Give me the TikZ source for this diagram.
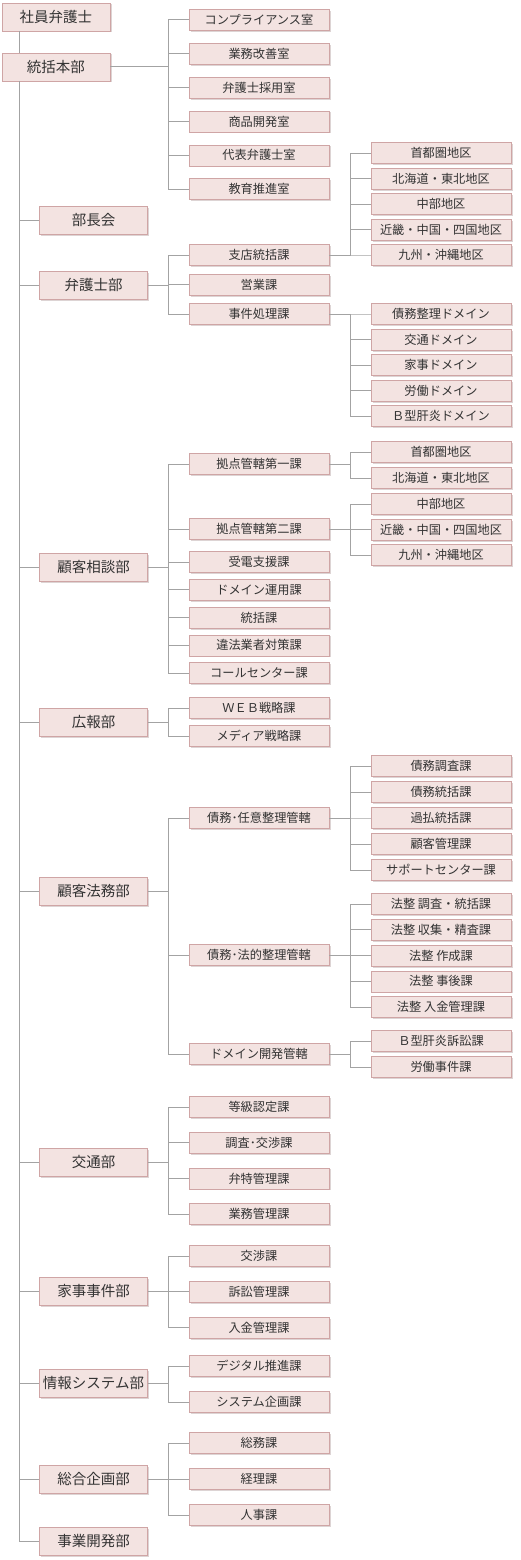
\documentclass[tikz,border=0pt]{standalone}
\usepackage{fontspec}
\setmainfont{Noto Sans CJK JP}
\usetikzlibrary{shadows}
\definecolor{boxfill}{HTML}{F3E3E1}
\definecolor{boxline}{HTML}{CFA5A5}
\definecolor{boxshadow}{HTML}{BBAAAA}
\definecolor{linkc}{HTML}{A3A3A3}
\definecolor{txt}{HTML}{333333}

\begin{document}
\begin{tikzpicture}[x=1pt, y=1pt, node distance=25.5pt,
  box/.style = {draw=boxline, fill=boxfill, text=txt, inner sep=1pt,
    drop shadow={shadow xshift=1.5pt, shadow yshift=-1.5pt, fill=boxshadow}},
  bu/.style = {box, minimum width=108pt, minimum height=28pt, font=\fontsize{14.5}{16}\selectfont},
  ka/.style = {box, minimum width=140pt, minimum height=21pt, font=\fontsize{12.2}{14}\selectfont},
  link/.style = {draw=linkc, line width=1pt},
  branch/.style = {to path={(\tikztotarget.west) -- ++(-20pt,0) |- (\tikztostart.east)}}]
\useasboundingbox (0,0) rectangle (520,-1560);

% departments
\node[bu] (syain) at (56,-17) {社員弁護士};
\node[bu] (hq) at (56,-67) {統括本部};
\node[bu] (bucho) at (93.5,-220) {部長会};
\node[bu] (bengo) at (93.5,-285) {弁護士部};
\node[bu] (sodan) at (93.5,-567) {顧客相談部};
\node[bu] (koho) at (93.5,-722) {広報部};
\node[bu] (homu) at (93.5,-891) {顧客法務部};
\node[bu] (kotsu) at (93.5,-1162) {交通部};
\node[bu] (kaji) at (93.5,-1291) {家事事件部};
\node[bu] (joho) at (93.5,-1383) {情報システム部};
\node[bu] (kikaku) at (93.5,-1479) {総合企画部};
\node[bu] (jigyo) at (93.5,-1541) {事業開発部};

% sections
\node[ka] (comp) at (259,-20) {コンプライアンス室};
\node[ka] (kaizen) [node distance=33.8pt, below of=comp] {業務改善室};
\node[ka] (saiyo) [node distance=33.8pt, below of=kaizen] {弁護士採用室};
\node[ka] (shohin) [node distance=33.8pt, below of=saiyo] {商品開発室};
\node[ka] (daihyo) [node distance=33.8pt, below of=shohin] {代表弁護士室};
\node[ka] (kyoiku) [node distance=33.8pt, below of=daihyo] {教育推進室};

\node[ka] (shiten) at (259,-255) {支店統括課};
\node[ka] (eigyo) [node distance=29.5pt, below of=shiten] {営業課};
\node[ka] (jiken) [node distance=29.5pt, below of=eigyo] {事件処理課};

\node[ka] (kyoten1) at (259,-464) {拠点管轄第一課};
\node[ka] (kyoten2) at (259,-529) {拠点管轄第二課};
\node[ka] (juden) at (259,-562) {受電支援課};
\node[ka] (unyo) [node distance=27.75pt, below of=juden] {ドメイン運用課};
\node[ka] (tokatsu) [node distance=27.75pt, below of=unyo] {統括課};
\node[ka] (ihou) [node distance=27.75pt, below of=tokatsu] {違法業者対策課};
\node[ka] (call) [node distance=27.75pt, below of=ihou] {コールセンター課};

\node[ka] (web) at (259,-708) {ＷＥＢ戦略課};
\node[ka] (media) [node distance=28pt, below of=web] {メディア戦略課};

\node[ka] (nini) at (259,-818) {債務･任意整理管轄};
\node[ka] (houteki) at (259,-955) {債務･法的整理管轄};
\node[ka] (kaihatsu) at (259,-1054) {ドメイン開発管轄};

\node[ka] (tokyu) at (259,-1107) {等級認定課};
\node[ka] (chosa) [node distance=35.67pt, below of=tokyu] {調査･交渉課};
\node[ka] (bentoku) [node distance=35.67pt, below of=chosa] {弁特管理課};
\node[ka] (gyomu) [node distance=35.67pt, below of=bentoku] {業務管理課};

\node[ka] (kosho) at (259,-1256) {交渉課};
\node[ka] (soshokanri) [node distance=35.8pt, below of=kosho] {訴訟管理課};
\node[ka] (nyukin) [node distance=35.8pt, below of=soshokanri] {入金管理課};

\node[ka] (digital) at (259,-1366) {デジタル推進課};
\node[ka] (sysplan) [node distance=36pt, below of=digital] {システム企画課};

\node[ka] (somu) at (259,-1443) {総務課};
\node[ka] (keiri) [node distance=36pt, below of=somu] {経理課};
\node[ka] (jinji) [node distance=36pt, below of=keiri] {人事課};

% units
\node[ka] (shuto1) at (441,-153) {首都圏地区};
\node[ka] (hokkaido1) [below of=shuto1] {北海道・東北地区};
\node[ka] (chubu1) [below of=hokkaido1] {中部地区};
\node[ka] (kinki1) [below of=chubu1] {近畿・中国・四国地区};
\node[ka] (kyushu1) [below of=kinki1] {九州・沖縄地区};

\node[ka] (saimudm) at (441,-314) {債務整理ドメイン};
\node[ka] (kotsudm) [below of=saimudm] {交通ドメイン};
\node[ka] (kajidm) [below of=kotsudm] {家事ドメイン};
\node[ka] (rododm) [below of=kajidm] {労働ドメイン};
\node[ka] (bgatadm) [below of=rododm] {Ｂ型肝炎ドメイン};

\node[ka] (shuto2) at (441,-452) {首都圏地区};
\node[ka] (hokkaido2) [node distance=26pt, below of=shuto2] {北海道・東北地区};
\node[ka] (chubu2) at (441,-504) {中部地区};
\node[ka] (kinki2) [below of=chubu2] {近畿・中国・四国地区};
\node[ka] (kyushu2) [below of=kinki2] {九州・沖縄地区};

\node[ka] (saimuchosa) at (441,-766) {債務調査課};
\node[ka] (saimutokatsu) [node distance=26pt, below of=saimuchosa] {債務統括課};
\node[ka] (kabarai) [node distance=26pt, below of=saimutokatsu] {過払統括課};
\node[ka] (kokyaku) [node distance=26pt, below of=kabarai] {顧客管理課};
\node[ka] (support) [node distance=26pt, below of=kokyaku] {サポートセンター課};

\node[ka] (hochosa) at (441,-904) {法整 調査・統括課};
\node[ka] (hoshushu) [node distance=25.75pt, below of=hochosa] {法整 収集・精査課};
\node[ka] (hosakusei) [node distance=25.75pt, below of=hoshushu] {法整 作成課};
\node[ka] (hojigo) [node distance=25.75pt, below of=hosakusei] {法整 事後課};
\node[ka] (honyukin) [node distance=25.75pt, below of=hojigo] {法整 入金管理課};

\node[ka] (bgatasosho) at (441,-1041) {Ｂ型肝炎訴訟課};
\node[ka] (rodojiken) [node distance=26pt, below of=bgatasosho] {労働事件課};

% trunk
\coordinate (trunk) at (19,0);
\draw[link] (syain.south -| trunk) -- (hq.north -| trunk);
\draw[link] (hq.south -| trunk) |- (jigyo.west);
\draw[link] (bucho.west) -- (bucho.west -| trunk);
\draw[link] (bengo.west) -- (bengo.west -| trunk);
\draw[link] (sodan.west) -- (sodan.west -| trunk);
\draw[link] (koho.west) -- (koho.west -| trunk);
\draw[link] (homu.west) -- (homu.west -| trunk);
\draw[link] (kotsu.west) -- (kotsu.west -| trunk);
\draw[link] (kaji.west) -- (kaji.west -| trunk);
\draw[link] (joho.west) -- (joho.west -| trunk);
\draw[link] (kikaku.west) -- (kikaku.west -| trunk);

% department to section
\draw[link] (hq) to[branch] (comp);
\draw[link] (hq) to[branch] (kaizen);
\draw[link] (hq) to[branch] (saiyo);
\draw[link] (hq) to[branch] (shohin);
\draw[link] (hq) to[branch] (daihyo);
\draw[link] (hq) to[branch] (kyoiku);
\draw[link] (bengo) to[branch] (shiten);
\draw[link] (bengo) to[branch] (eigyo);
\draw[link] (bengo) to[branch] (jiken);
\draw[link] (sodan) to[branch] (kyoten1);
\draw[link] (sodan) to[branch] (kyoten2);
\draw[link] (sodan) to[branch] (juden);
\draw[link] (sodan) to[branch] (unyo);
\draw[link] (sodan) to[branch] (tokatsu);
\draw[link] (sodan) to[branch] (ihou);
\draw[link] (sodan) to[branch] (call);
\draw[link] (koho) to[branch] (web);
\draw[link] (koho) to[branch] (media);
\draw[link] (homu) to[branch] (nini);
\draw[link] (homu) to[branch] (houteki);
\draw[link] (homu) to[branch] (kaihatsu);
\draw[link] (kotsu) to[branch] (tokyu);
\draw[link] (kotsu) to[branch] (chosa);
\draw[link] (kotsu) to[branch] (bentoku);
\draw[link] (kotsu) to[branch] (gyomu);
\draw[link] (kaji) to[branch] (kosho);
\draw[link] (kaji) to[branch] (soshokanri);
\draw[link] (kaji) to[branch] (nyukin);
\draw[link] (joho) to[branch] (digital);
\draw[link] (joho) to[branch] (sysplan);
\draw[link] (kikaku) to[branch] (somu);
\draw[link] (kikaku) to[branch] (keiri);
\draw[link] (kikaku) to[branch] (jinji);

% section to unit
\draw[link] (shiten) to[branch] (shuto1);
\draw[link] (shiten) to[branch] (hokkaido1);
\draw[link] (shiten) to[branch] (chubu1);
\draw[link] (shiten) to[branch] (kinki1);
\draw[link] (shiten) to[branch] (kyushu1);
\draw[link] (jiken) to[branch] (saimudm);
\draw[link] (jiken) to[branch] (kotsudm);
\draw[link] (jiken) to[branch] (kajidm);
\draw[link] (jiken) to[branch] (rododm);
\draw[link] (jiken) to[branch] (bgatadm);
\draw[link] (kyoten1) to[branch] (shuto2);
\draw[link] (kyoten1) to[branch] (hokkaido2);
\draw[link] (kyoten2) to[branch] (chubu2);
\draw[link] (kyoten2) to[branch] (kinki2);
\draw[link] (kyoten2) to[branch] (kyushu2);
\draw[link] (nini) to[branch] (saimuchosa);
\draw[link] (nini) to[branch] (saimutokatsu);
\draw[link] (nini) to[branch] (kabarai);
\draw[link] (nini) to[branch] (kokyaku);
\draw[link] (nini) to[branch] (support);
\draw[link] (houteki) to[branch] (hochosa);
\draw[link] (houteki) to[branch] (hoshushu);
\draw[link] (houteki) to[branch] (hosakusei);
\draw[link] (houteki) to[branch] (hojigo);
\draw[link] (houteki) to[branch] (honyukin);
\draw[link] (kaihatsu) to[branch] (bgatasosho);
\draw[link] (kaihatsu) to[branch] (rodojiken);
\end{tikzpicture}
\end{document}
